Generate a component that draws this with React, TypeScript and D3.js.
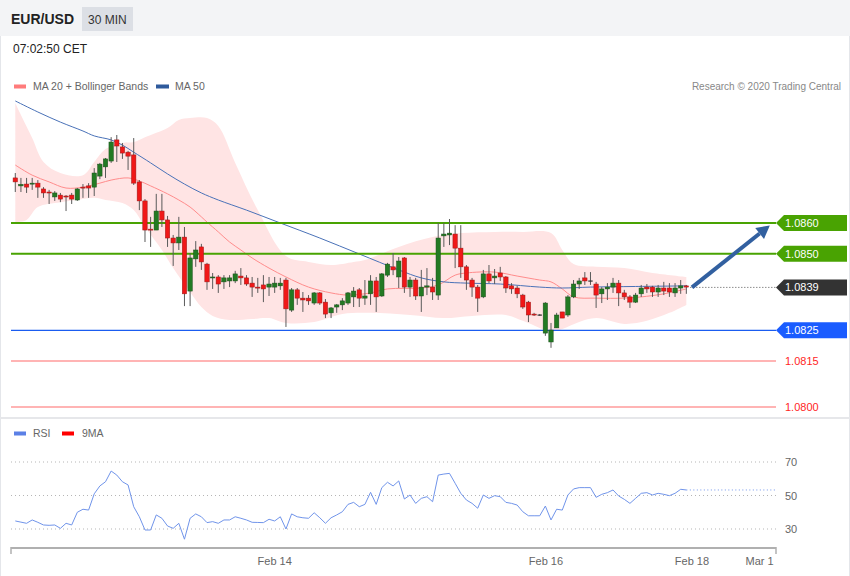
import React from 'react';
import * as d3 from 'd3';

// candles: [open, high, low, close], 30 min bars
const candles: [number, number, number, number][] = [
  [1.08747, 1.08763, 1.08701, 1.08734], [1.08721, 1.08747, 1.08701, 1.08726], [1.08727, 1.08747, 1.08698, 1.08717],
  [1.08727, 1.08747, 1.08708, 1.08730], [1.08730, 1.08740, 1.08682, 1.08717], [1.08711, 1.08717, 1.08682, 1.08698],
  [1.08701, 1.08708, 1.08662, 1.08698], [1.08685, 1.08704, 1.08672, 1.08698], [1.08691, 1.08698, 1.08668, 1.08678],
  [1.08688, 1.08691, 1.08639, 1.08686], [1.08691, 1.08698, 1.08662, 1.08678], [1.08675, 1.08714, 1.08672, 1.08711],
  [1.08717, 1.08727, 1.08682, 1.08714], [1.08721, 1.08730, 1.08682, 1.08714], [1.08717, 1.08779, 1.08688, 1.08763],
  [1.08753, 1.08796, 1.08743, 1.08792], [1.08783, 1.08812, 1.08747, 1.08809], [1.08802, 1.08880, 1.08796, 1.08864],
  [1.08871, 1.08887, 1.08799, 1.08851], [1.08848, 1.08861, 1.08809, 1.08828], [1.08831, 1.08835, 1.08773, 1.08818],
  [1.08822, 1.08877, 1.08724, 1.08730], [1.08734, 1.08740, 1.08642, 1.08672], [1.08672, 1.08678, 1.08538, 1.08577],
  [1.08580, 1.08620, 1.08522, 1.08577], [1.08577, 1.08695, 1.08577, 1.08639], [1.08639, 1.08695, 1.08587, 1.08610],
  [1.08610, 1.08623, 1.08522, 1.08551], [1.08551, 1.08561, 1.08460, 1.08535], [1.08535, 1.08620, 1.08512, 1.08554],
  [1.08554, 1.08587, 1.08329, 1.08369], [1.08378, 1.08502, 1.08329, 1.08486], [1.08483, 1.08541, 1.08457, 1.08512],
  [1.08522, 1.08532, 1.08447, 1.08473], [1.08466, 1.08470, 1.08382, 1.08408], [1.08421, 1.08437, 1.08385, 1.08424],
  [1.08424, 1.08430, 1.08372, 1.08401], [1.08408, 1.08430, 1.08385, 1.08421], [1.08411, 1.08430, 1.08391, 1.08421],
  [1.08411, 1.08444, 1.08404, 1.08434], [1.08427, 1.08453, 1.08398, 1.08421], [1.08421, 1.08430, 1.08395, 1.08401],
  [1.08404, 1.08424, 1.08359, 1.08391], [1.08391, 1.08421, 1.08372, 1.08388], [1.08398, 1.08430, 1.08342, 1.08385],
  [1.08391, 1.08424, 1.08362, 1.08401], [1.08391, 1.08424, 1.08372, 1.08404], [1.08395, 1.08421, 1.08382, 1.08404],
  [1.08414, 1.08421, 1.08261, 1.08320], [1.08316, 1.08388, 1.08310, 1.08382], [1.08382, 1.08388, 1.08333, 1.08355],
  [1.08355, 1.08375, 1.08310, 1.08349], [1.08355, 1.08365, 1.08333, 1.08346], [1.08339, 1.08375, 1.08333, 1.08372],
  [1.08372, 1.08375, 1.08333, 1.08339], [1.08342, 1.08352, 1.08290, 1.08303], [1.08307, 1.08326, 1.08290, 1.08323],
  [1.08326, 1.08336, 1.08307, 1.08333], [1.08333, 1.08355, 1.08316, 1.08346], [1.08339, 1.08375, 1.08333, 1.08372],
  [1.08359, 1.08391, 1.08326, 1.08378], [1.08382, 1.08388, 1.08326, 1.08355], [1.08355, 1.08414, 1.08333, 1.08362],
  [1.08369, 1.08430, 1.08333, 1.08411], [1.08411, 1.08424, 1.08310, 1.08359], [1.08362, 1.08437, 1.08359, 1.08434],
  [1.08430, 1.08470, 1.08424, 1.08466], [1.08457, 1.08502, 1.08430, 1.08447], [1.08424, 1.08489, 1.08388, 1.08476],
  [1.08486, 1.08489, 1.08372, 1.08391], [1.08391, 1.08424, 1.08359, 1.08414], [1.08414, 1.08421, 1.08349, 1.08362],
  [1.08362, 1.08447, 1.08310, 1.08391], [1.08391, 1.08453, 1.08365, 1.08395], [1.08391, 1.08421, 1.08349, 1.08375],
  [1.08365, 1.08600, 1.08349, 1.08551], [1.08558, 1.08600, 1.08522, 1.08564], [1.08561, 1.08613, 1.08528, 1.08567],
  [1.08564, 1.08593, 1.08453, 1.08518], [1.08518, 1.08593, 1.08421, 1.08457], [1.08457, 1.08463, 1.08382, 1.08414],
  [1.08414, 1.08421, 1.08359, 1.08391], [1.08391, 1.08398, 1.08310, 1.08355], [1.08359, 1.08447, 1.08355, 1.08434],
  [1.08434, 1.08463, 1.08404, 1.08411], [1.08421, 1.08450, 1.08401, 1.08427], [1.08437, 1.08457, 1.08411, 1.08424],
  [1.08424, 1.08427, 1.08372, 1.08388], [1.08395, 1.08404, 1.08369, 1.08385], [1.08388, 1.08395, 1.08355, 1.08369],
  [1.08365, 1.08369, 1.08320, 1.08326], [1.08342, 1.08346, 1.08277, 1.08300], [1.08303, 1.08307, 1.08297, 1.08300],
  [1.08300, 1.08303, 1.08297, 1.08300], [1.08241, 1.08342, 1.08232, 1.08339], [1.08212, 1.08274, 1.08193, 1.08251],
  [1.08258, 1.08307, 1.08258, 1.08300], [1.08310, 1.08310, 1.08290, 1.08290], [1.08300, 1.08365, 1.08294, 1.08359],
  [1.08359, 1.08414, 1.08355, 1.08401], [1.08401, 1.08421, 1.08385, 1.08411], [1.08421, 1.08440, 1.08398, 1.08411],
  [1.08411, 1.08440, 1.08398, 1.08409], [1.08401, 1.08408, 1.08323, 1.08365], [1.08369, 1.08391, 1.08339, 1.08385],
  [1.08385, 1.08404, 1.08349, 1.08391], [1.08391, 1.08421, 1.08372, 1.08404], [1.08404, 1.08414, 1.08329, 1.08372],
  [1.08372, 1.08382, 1.08349, 1.08359], [1.08359, 1.08365, 1.08323, 1.08342], [1.08342, 1.08372, 1.08339, 1.08365],
  [1.08369, 1.08398, 1.08359, 1.08388], [1.08391, 1.08401, 1.08372, 1.08385], [1.08391, 1.08395, 1.08359, 1.08375],
  [1.08375, 1.08398, 1.08359, 1.08388], [1.08388, 1.08408, 1.08365, 1.08378], [1.08388, 1.08404, 1.08359, 1.08375],
  [1.08372, 1.08404, 1.08359, 1.08388], [1.08388, 1.08414, 1.08369, 1.08395], [1.08395, 1.08398, 1.08369, 1.08391],
];

// indicator readings: [bar index, price]
const ma20: [number, number][] = [
  [0, 1.08789], [3, 1.08756], [6, 1.08734], [9, 1.08714], [12, 1.08717], [15, 1.0873], [17, 1.0874], [20, 1.08747],
  [22, 1.08737], [24, 1.08721], [27, 1.08695], [29, 1.08675], [31, 1.08652], [33, 1.0862], [34, 1.08603], [36, 1.08571],
  [38, 1.08538], [40, 1.08512], [42, 1.08486], [45, 1.08453], [48, 1.08424], [52, 1.08391], [56, 1.08372], [59, 1.08365],
  [63, 1.08372], [66, 1.08385], [72, 1.08388], [75, 1.08398], [78, 1.0843], [80, 1.08437], [85, 1.0844], [89, 1.08427],
  [93, 1.08414], [95, 1.08408], [97, 1.08385], [99, 1.08359], [103, 1.08355], [108, 1.08355], [111, 1.08359],
  [115, 1.08369], [119, 1.08385],
];
const bbUpper: [number, number][] = [
  [0, 1.08991], [1, 1.08952], [3, 1.08877], [5, 1.08799], [8, 1.08763], [12, 1.08756], [14, 1.08799], [16, 1.08841],
  [19, 1.08861], [21, 1.08864], [23, 1.0888], [27, 1.0891], [29, 1.08936], [31, 1.08942], [34, 1.08942], [36, 1.08916],
  [39, 1.08796], [43, 1.08642], [48, 1.08492], [52, 1.08473], [56, 1.08463], [60, 1.08473], [62, 1.08479], [68, 1.08522],
  [74, 1.08554], [79, 1.08567], [85, 1.08571], [90, 1.08571], [95, 1.08567], [97, 1.08512], [99, 1.08466],
  [103, 1.08457], [108, 1.08453], [113, 1.08437], [119, 1.08424],
];
const bbLower: [number, number][] = [
  [0, 1.08603], [2, 1.0861], [4, 1.08652], [8, 1.08668], [11, 1.08675], [14, 1.08682], [16, 1.08675], [19, 1.08665],
  [21, 1.08642], [23, 1.08587], [26, 1.08512], [28, 1.08453], [31, 1.08375], [33, 1.08326], [35, 1.08297], [38, 1.08284],
  [42, 1.08287], [45, 1.0829], [48, 1.08274], [53, 1.08277], [58, 1.08303], [63, 1.08307], [70, 1.083], [76, 1.0829],
  [81, 1.08297], [87, 1.083], [90, 1.08281], [93, 1.08258], [95, 1.08245], [97, 1.08254], [100, 1.08277], [103, 1.0829],
  [108, 1.08271], [112, 1.08281], [116, 1.08307], [119, 1.08333],
];
const ma50: [number, number][] = [
  [0, 1.08998], [4, 1.08962], [8, 1.08929], [12, 1.089], [14, 1.08884], [17, 1.08871], [19, 1.08854], [21, 1.08831],
  [24, 1.08796], [27, 1.0876], [30, 1.08727], [33, 1.08698], [36, 1.08675], [41, 1.08642], [47, 1.086], [54, 1.08551],
  [61, 1.08499], [68, 1.08447], [72, 1.08421], [76, 1.08408], [80, 1.08404], [86, 1.08401], [93, 1.08391],
  [97, 1.08388], [102, 1.08391], [110, 1.08393], [119, 1.08395],
];

const rsi = [
  34.8, 34.1, 33.4, 35.4, 34.0, 32.4, 32.2, 32.4, 30.4, 33.4, 32.4, 40.0, 41.8, 41.3, 51.0, 55.7, 58.2, 64.6, 62.2, 58.2,
  56.3, 43.3, 37.3, 29.4, 29.4, 38.4, 36.4, 31.8, 30.4, 33.4, 23.9, 36.4, 39.0, 37.3, 33.8, 34.4, 33.4, 35.4, 35.4, 37.3,
  36.4, 35.4, 34.0, 33.9, 33.8, 35.8, 34.8, 37.3, 30.0, 39.0, 37.3, 36.7, 36.4, 39.7, 36.7, 33.4, 36.7, 38.4, 40.3, 44.7,
  45.9, 43.3, 44.7, 51.9, 44.7, 54.7, 57.9, 55.7, 58.7, 47.9, 50.3, 45.3, 48.3, 49.3, 46.3, 62.2, 62.8, 63.2, 57.3, 51.3,
  47.3, 45.3, 42.4, 50.3, 48.3, 49.9, 49.3, 45.9, 45.3, 44.3, 40.3, 37.9, 37.9, 37.9, 43.7, 35.4, 41.8, 41.3, 50.3, 53.9,
  54.7, 54.7, 54.7, 48.9, 50.7, 51.7, 53.3, 49.7, 47.7, 45.3, 48.3, 51.3, 51.7, 50.3, 51.3, 50.7, 49.9, 51.3, 53.7, 53.3,
];

const resistances = [1.086, 1.085];
const supports = [1.0825];
const extraLevels = [1.0815, 1.08];
const lastPrice = 1.0839;
const target = { idx: 133.8, price: 1.08592 };
const rsiLevels = [70, 50, 30];
const dateTicks = [
  { label: 'Feb 14', idx: 46 },
  { label: 'Feb 16', idx: 94.1 },
  { label: 'Feb 18', idx: 120 },
  { label: 'Mar 1', idx: 132 },
];

const FONT = '"Liberation Sans", Arial, sans-serif';
const GREEN = '#49a302';
const RED_BODY = '#f01818';
const GREEN_BODY = '#237a23';

const x = d3.scaleLinear().domain([-0.76, 134.9]).range([11, 776]);
const y = d3.scaleLinear().domain([1.08, 1.086]).range([407, 223]);
const yR = d3.scaleLinear().domain([30, 70]).range([529, 462]);

const priceLine = d3.line<[number, number]>().x(d => x(d[0])).y(d => y(d[1])).curve(d3.curveCatmullRom.alpha(0.5));

function bandPath() {
  const up = priceLine(bbUpper) || '';
  const lo = priceLine([...bbLower].reverse()) || '';
  return up + 'L' + lo.slice(1) + 'Z';
}

const Tag: React.FC<{ price: number; fill: string }> = ({ price, fill }) => {
  const yy = y(price);
  const pts = [[776, yy], [784, yy - 8], [847, yy - 8], [847, yy + 8], [784, yy + 8]].map(p => p.join(',')).join(' ');
  return (
    <g>
      <polygon points={pts} fill={fill} />
      <text x={785} y={yy + 4} fill="#fff" fontSize={11}>{price.toFixed(4)}</text>
    </g>
  );
};

export default function App() {
  const bw = 4.4;
  const rsiLine = d3.line<number>().x((_, i) => x(i)).y(d => yR(d));
  const lastIdx = candles.length - 1;

  // arrow
  const ax0 = x(lastIdx + 1), ay0 = y(lastPrice);
  const ax1 = x(target.idx), ay1 = y(target.price);
  const ang = Math.atan2(ay1 - ay0, ax1 - ax0);
  const headLen = 13, headW = 7;
  const bx = ax1 - headLen * Math.cos(ang), by = ay1 - headLen * Math.sin(ang);
  const head = [
    [ax1, ay1],
    [bx + headW * Math.sin(ang), by - headW * Math.cos(ang)],
    [bx - headW * Math.sin(ang), by + headW * Math.cos(ang)],
  ].map(p => p.join(',')).join(' ');

  return (
    <div style={{ position: 'absolute', left: 0, top: 0 }}>
      <svg width={850} height={576} style={{ display: 'block', fontFamily: FONT }}>
        <rect x={0} y={0} width={850} height={576} fill="#fff" />
        <rect x={0} y={0} width={850} height={36} fill="#f3f4f6" />
        <line x1={0.5} y1={36} x2={0.5} y2={576} stroke="#e4e6ea" />
        <line x1={849.5} y1={36} x2={849.5} y2={576} stroke="#e4e6ea" />
        <text x={11} y={24} fontSize={14} fontWeight="bold" fill="#222">EUR/USD</text>
        <rect x={82} y={7} width={51} height={24} fill="#dcdfe5" />
        <text x={88} y={23.5} fontSize={12} fill="#333">30 MIN</text>
        <text x={13} y={53} fontSize={12} fill="#222">07:02:50 CET</text>

        {/* legend */}
        <rect x={14} y={84.5} width={12} height={4} fill="#ff7b7b" />
        <text x={33} y={90} fontSize={10.5} fill="#666">MA 20 + Bollinger Bands</text>
        <rect x={156} y={84.5} width={13} height={4} fill="#2e5a9c" />
        <text x={175} y={90} fontSize={10.5} fill="#666">MA 50</text>
        <text x={841} y={90} fontSize={10} fill="#888" textAnchor="end">Research © 2020 Trading Central</text>

        {/* bollinger band + moving averages */}
        <path d={bandPath()} fill="#ffe4e4" />
        <path d={priceLine(ma20) || ''} fill="none" stroke="#ff8c8c" strokeWidth={1} />
        <path d={priceLine(ma50) || ''} fill="none" stroke="#4a72b8" strokeWidth={1} />

        {/* levels */}
        {extraLevels.map(p => (
          <g key={p}>
            <line x1={11} x2={776} y1={y(p)} y2={y(p)} stroke="#ffb4b4" strokeWidth={2} />
            <text x={785} y={y(p) + 4} fontSize={11} fill="#ff1f1f">{p.toFixed(4)}</text>
          </g>
        ))}
        {supports.map(p => (
          <line key={p} x1={11} x2={776} y1={y(p)} y2={y(p)} stroke="#1a5cf0" strokeWidth={1.2} />
        ))}
        {resistances.map(p => (
          <line key={p} x1={11} x2={776} y1={y(p)} y2={y(p)} stroke={GREEN} strokeWidth={2} />
        ))}

        {/* candles */}
        {candles.map(([o, h, l, c], i) => {
          const cx = x(i);
          const doji = Math.abs(c - o) < 0.00002;
          const up = c > o;
          const top = y(Math.max(o, c));
          const bot = y(Math.min(o, c));
          return (
            <g key={i}>
              <line x1={cx} x2={cx} y1={y(h)} y2={y(l)} stroke="#5a5a5a" strokeWidth={1} />
              {doji ? (
                <rect x={cx - bw / 2} y={top - 0.5} width={bw} height={1.2} fill="#333" />
              ) : (
                <rect x={cx - bw / 2} y={top} width={bw} height={Math.max(bot - top, 1)}
                  fill={up ? GREEN_BODY : RED_BODY} stroke={up ? '#1b4f1b' : '#9a1a1a'} strokeWidth={0.5} />
              )}
            </g>
          );
        })}

        {/* last price */}
        <line x1={x(lastIdx) + 4} x2={776} y1={y(lastPrice)} y2={y(lastPrice)} stroke="#555" strokeDasharray="1,2" />
        {resistances.map(p => <Tag key={p} price={p} fill={GREEN} />)}
        <Tag price={lastPrice} fill="#333" />
        {supports.map(p => <Tag key={p} price={p} fill="#1a5cff" />)}

        {/* arrow */}
        <line x1={ax0} y1={ay0} x2={bx} y2={by} stroke="#3260a0" strokeWidth={4} />
        <polygon points={head} fill="#3260a0" />

        {/* RSI panel */}
        <line x1={0} x2={850} y1={418} y2={418} stroke="#e6e7ea" strokeWidth={2} />
        <rect x={14} y={431.5} width={12} height={4} fill="#5b80e6" />
        <text x={33} y={437} fontSize={10.5} fill="#666">RSI</text>
        <rect x={62} y={431.5} width={12} height={4} fill="#ff0000" />
        <text x={82} y={437} fontSize={10.5} fill="#666">9MA</text>
        {rsiLevels.map(v => (
          <g key={v}>
            <line x1={11} x2={776} y1={yR(v)} y2={yR(v)} stroke="#b5b5b5" strokeDasharray="1,3" />
            <text x={785} y={yR(v) + 4} fontSize={11} fill="#666">{v}</text>
          </g>
        ))}
        <path d={rsiLine(rsi) || ''} fill="none" stroke="#7094ea" strokeWidth={1} />
        <line x1={x(lastIdx)} x2={776} y1={yR(rsi[lastIdx])} y2={yR(rsi[lastIdx])} stroke="#7094ea" strokeDasharray="1,2.5" />

        {/* time axis */}
        <line x1={11} x2={776} y1={548} y2={548} stroke="#b0b0b0" strokeWidth={2} />
        <line x1={11} x2={11} y1={547} y2={554} stroke="#b0b0b0" strokeWidth={1.5} />
        <line x1={776} x2={776} y1={547} y2={554} stroke="#b0b0b0" strokeWidth={1.5} />
        {dateTicks.map(t => (
          <text key={t.label} x={x(t.idx)} y={565} fontSize={11} fill="#666" textAnchor="middle">{t.label}</text>
        ))}
      </svg>
    </div>
  );
}
